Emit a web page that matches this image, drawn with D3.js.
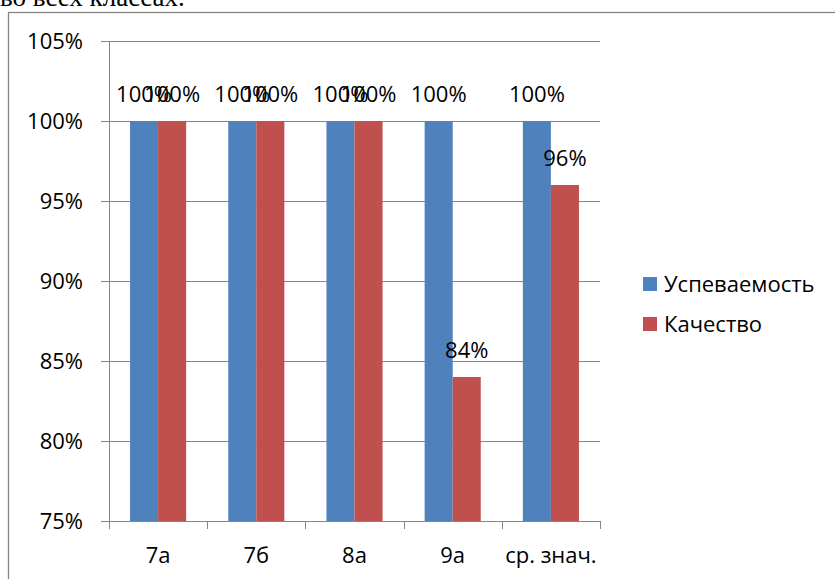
<!DOCTYPE html>
<html><head><meta charset="utf-8">
<script src="https://cdn.jsdelivr.net/npm/d3@7"></script>
<style>html,body{margin:0;padding:0;background:#fff;overflow:hidden}</style>
</head><body>
<svg id="c" width="835" height="579"></svg>
<script>
const categories = ["7а", "7б", "8а", "9а", "ср. знач."];
const seriesNames = ["Успеваемость", "Качество"];
const uspevaemost = [1.00, 1.00, 1.00, 1.00, 1.00];
const kachestvo = [1.00, 1.00, 1.00, 0.84, 0.96];
const yTicks = [0.75, 0.80, 0.85, 0.90, 0.95, 1.00, 1.05];
const colors = ["#4F81BD", "#C0504D"];

const svg = d3.select("#c");
const font = "'Open Sans', sans-serif";
const fs = 22;

// caption fragment above the chart
svg.append("text").attr("x", 0).attr("y", 5.5)
  .attr("font-family", "'Liberation Serif', 'Times New Roman', serif")
  .attr("font-size", 27).attr("fill", "#000").text("во всех классах.");

// outer chart frame
svg.append("rect").attr("x", 8.5).attr("y", 12.5).attr("width", 900).attr("height", 700)
  .attr("fill", "none").attr("stroke", "#868686").attr("stroke-width", 1.3);

const x0 = 109, x1 = 600, yTop = 41, yBot = 521;
const y = d3.scaleLinear().domain([0.75, 1.05]).range([yBot, yTop]);
const xb = d3.scaleBand().domain(categories).range([x0, x1]).paddingInner(0).paddingOuter(0);
const inner = d3.scaleBand().domain([0, 1]).range([0, xb.bandwidth()]).paddingInner(0).paddingOuter(0.75);

// gridlines
svg.append("g").selectAll("line").data(yTicks).join("line")
  .attr("x1", x0 - 8).attr("x2", x1)
  .attr("y1", d => Math.round(y(d)) + 0.5).attr("y2", d => Math.round(y(d)) + 0.5)
  .attr("stroke", "#868686").attr("stroke-width", 1);

// y axis line
svg.append("line").attr("x1", x0 + 0.5).attr("x2", x0 + 0.5).attr("y1", yTop).attr("y2", yBot)
  .attr("stroke", "#868686");

// y labels
svg.append("g").selectAll("text").data(yTicks).join("text")
  .attr("x", 83).attr("y", d => y(d) + 8).attr("text-anchor", "end")
  .attr("font-family", font).attr("font-size", fs).attr("fill", "#000")
  .text(d => d3.format(".0%")(d));

// bars
const series = [uspevaemost, kachestvo];
series.forEach((vals, si) => {
  svg.append("g").selectAll("rect").data(vals).join("rect")
    .attr("x", (d, i) => xb(categories[i]) + inner(si))
    .attr("width", inner.bandwidth())
    .attr("y", d => y(d))
    .attr("height", d => yBot - y(d))
    .attr("fill", colors[si]);
});

// x axis line and ticks
svg.append("line").attr("x1", x0).attr("x2", x1).attr("y1", yBot + 0.5).attr("y2", yBot + 0.5)
  .attr("stroke", "#868686");
const xt = categories.map(c => xb(c)).concat([x1]);
svg.append("g").selectAll("line").data(xt).join("line")
  .attr("x1", d => Math.round(d) + 0.5).attr("x2", d => Math.round(d) + 0.5)
  .attr("y1", yBot).attr("y2", yBot + 8).attr("stroke", "#868686");

// x labels
svg.append("g").selectAll("text").data(categories).join("text")
  .attr("x", d => xb(d) + xb.bandwidth() / 2).attr("y", 563).attr("text-anchor", "middle")
  .attr("font-family", font).attr("font-size", fs).attr("fill", "#000").text(d => d);

// data labels
series.forEach((vals, si) => {
  svg.append("g").selectAll("text").data(vals).join("text")
    .attr("x", (d, i) => xb(categories[i]) + inner(si) + inner.bandwidth() / 2)
    .attr("y", d => y(d) - 19).attr("text-anchor", "middle")
    .attr("font-family", font).attr("font-size", fs).attr("fill", "#000")
    .text(d => d3.format(".0%")(d));
});

// legend
const lg = svg.append("g").attr("transform", "translate(643,277)");
seriesNames.forEach((n, i) => {
  lg.append("rect").attr("x", 0).attr("y", i * 40).attr("width", 14).attr("height", 14).attr("fill", colors[i]);
  lg.append("text").attr("x", 21).attr("y", i * 40 + 15).attr("font-family", font)
    .attr("font-size", fs).attr("fill", "#000").text(n);
});
</script>
</body></html>
